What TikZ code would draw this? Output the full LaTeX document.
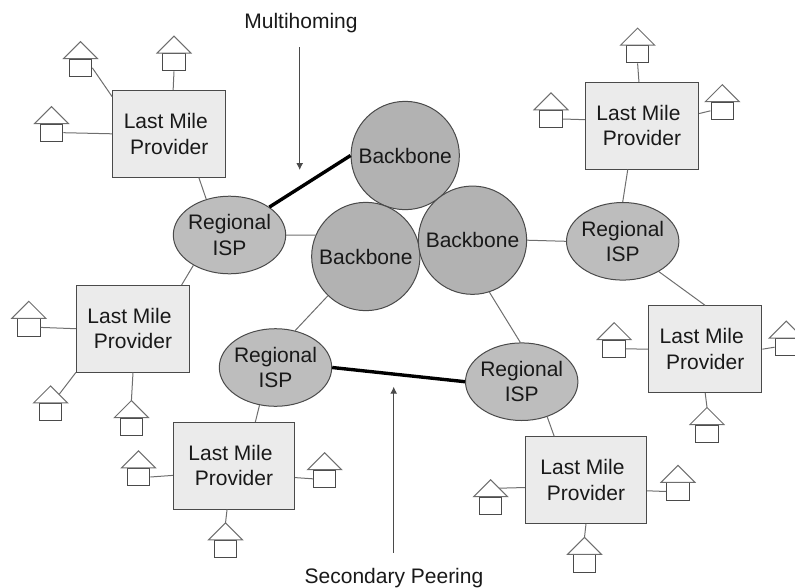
\documentclass[tikz,border=0pt]{standalone}
\usepackage{fontspec}
\setmainfont{Liberation Sans}
\usetikzlibrary{shapes,arrows.meta,calc}
\definecolor{linegray}{HTML}{6E6E6E}
\definecolor{edgegray}{HTML}{4A4A4A}
\definecolor{lastfill}{HTML}{EBEBEB}
\definecolor{ispfill}{HTML}{BDBDBD}
\definecolor{bonefill}{HTML}{B2B2B2}
\newcommand{\house}[2]{
  \node[housebody] (#1) at (#2) {};
  \coordinate (#1top) at ([yshift=17pt]#1.north);
  \coordinate (#1eave) at ([xshift=17pt]#1.north);
  \draw[roof] ([xshift=-17pt]#1.north) -- (#1top) -- (#1eave) -- cycle;
}
\begin{document}
\begin{tikzpicture}[x=1pt,y=-1pt,
      every node/.style={text=black!90,inner sep=0pt,align=center,font=\fontsize{21}{25.5}\selectfont},
      lastmile/.style={rectangle,draw=edgegray,fill=lastfill,line width=1pt,minimum width=113.3pt,minimum height=86.6pt},
      widemile/.style={lastmile,minimum width=121.4pt},
      isp/.style={ellipse,draw=edgegray,fill=ispfill,line width=1pt,inner xsep=-2.2pt,minimum width=112.4pt,minimum height=77.6pt},
      bone/.style={circle,draw=edgegray,fill=bonefill,line width=1pt,minimum size=108.3pt},
      housebody/.style={rectangle,draw=edgegray,fill=white,line width=1pt,minimum width=22.6pt,minimum height=17.2pt},
      roof/.style={draw=linegray,line width=1pt},
      wire/.style={draw=linegray,line width=1pt},
      peer/.style={draw=black,line width=3.4pt},
      pointer/.style={draw=edgegray,line width=1pt,-{Latex[length=7pt,width=7pt]}}]
    \clip (0,0) rectangle (795,587);

    \node[bone] (backbone1) at (405.2,155.5) {Backbone};
    \node[bone] (backbone2) at (365.8,256.5) {Backbone};
    \node[bone] (backbone3) at (472.5,240.2) {Backbone};

    \node[isp] (regional1) at (229.5,235) {Regional\\ISP};
    \node[isp] (regional2) at (275.5,367.5) {Regional\\ISP};
    \node[isp] (regional3) at (521.7,381.7) {Regional\\ISP};
    \node[isp] (regional4) at (622.7,241.3) {Regional\\ISP};

    \node[lastmile] (lastmile1) at (169.3,133.8) {Last Mile\kern7pt\\Provider};
    \node[lastmile] (lastmile2) at (133,328.7) {Last Mile\kern7pt\\Provider};
    \node[widemile] (lastmile3) at (234,465.7) {Last Mile\kern7pt\\Provider};
    \node[widemile] (lastmile4) at (586,480) {Last Mile\kern7pt\\Provider};
    \node[lastmile] (lastmile5) at (705.2,349.2) {Last Mile\kern7pt\\Provider};
    \node[lastmile] (lastmile6) at (642,125.7) {Last Mile\kern7pt\\Provider};

    \house{ha}{80.5,67.8}
    \house{hb}{174,62.2}
    \house{hc}{51.5,132.7}
    \house{hd}{28.8,327.4}
    \house{he}{50.6,412}
    \house{hf}{131.4,426.7}
    \house{hg}{138.5,477}
    \house{hh}{324.6,478.8}
    \house{hi}{225.5,549}
    \house{hj}{490.6,505.8}
    \house{hk}{678,491.5}
    \house{hl}{584.5,563.5}
    \house{hm}{614.2,348.8}
    \house{hn}{786.3,347.2}
    \house{ho}{707,433.6}
    \house{hp}{551,119}
    \house{hq}{637.6,54.2}
    \house{hr}{722.3,110.8}

    \node (multihoming) at (301,23.5) {Multihoming};
    \node (secondary) at (394,578) {Secondary Peering};
    \coordinate (mhstart) at (299.7,47);
    \coordinate (mhend) at (299.7,170);
    \coordinate (spstart) at (393.7,552.7);
    \coordinate (spend) at (393.7,386.7);

    \draw[wire] (regional1.220) -- (lastmile2.42);
    \draw[wire] (regional1.123) -- (lastmile1.-56);
    \draw[wire] (regional1.east) -- (backbone2.157);
    \draw[wire] (backbone2.226) -- (regional2.62);
    \draw[wire] (backbone3.-72) -- (regional3.92);
    \draw[wire] (backbone3.east) -- (regional4.west);
    \draw[wire] (regional2.247) -- (lastmile3.64);
    \draw[wire] (regional3.-54) -- (lastmile4.126);
    \draw[wire] (regional4.north) -- (lastmile6.-108);
    \draw[wire] (regional4.-40) -- (lastmile5.north);

    \draw[peer] (regional1.35) -- (backbone1.west);
    \draw[peer] (regional2.east) -- (regional3.west);

    \draw[wire] (ha.east) -- (lastmile1.147);
    \draw[wire] (hb.south) -- (lastmile1.85);
    \draw[wire] (hc.east) -- (lastmile1.west);
    \draw[wire] (hd.east) -- (lastmile2.west);
    \draw[wire] ($(hetop)!.5!(heeave)$) -- (lastmile2.south west);
    \draw[wire] (hftop) -- (lastmile2.south);
    \draw[wire] (hg.east) -- (lastmile3.189);
    \draw[wire] (hh.west) -- (lastmile3.-11);
    \draw[wire] (hitop) -- (lastmile3.261);
    \draw[wire] ($(hjtop)!.5!(hjeave)$) -- (lastmile4.187);
    \draw[wire] (hk.west) -- (lastmile4.-10);
    \draw[wire] (hltop) -- (lastmile4.south);
    \draw[wire] (hm.east) -- (lastmile5.west);
    \draw[wire] (hn.west) -- (lastmile5.east);
    \draw[wire] (hotop) -- (lastmile5.south);
    \draw[wire] (hp.east) -- (lastmile6.174);
    \draw[wire] (hq.south) -- (lastmile6.94);
    \draw[wire] (hr.west) -- (lastmile6.12);

    \draw[pointer] (mhstart) -- (mhend);
    \draw[pointer] (spstart) -- (spend);
  \end{tikzpicture}
\end{document}
